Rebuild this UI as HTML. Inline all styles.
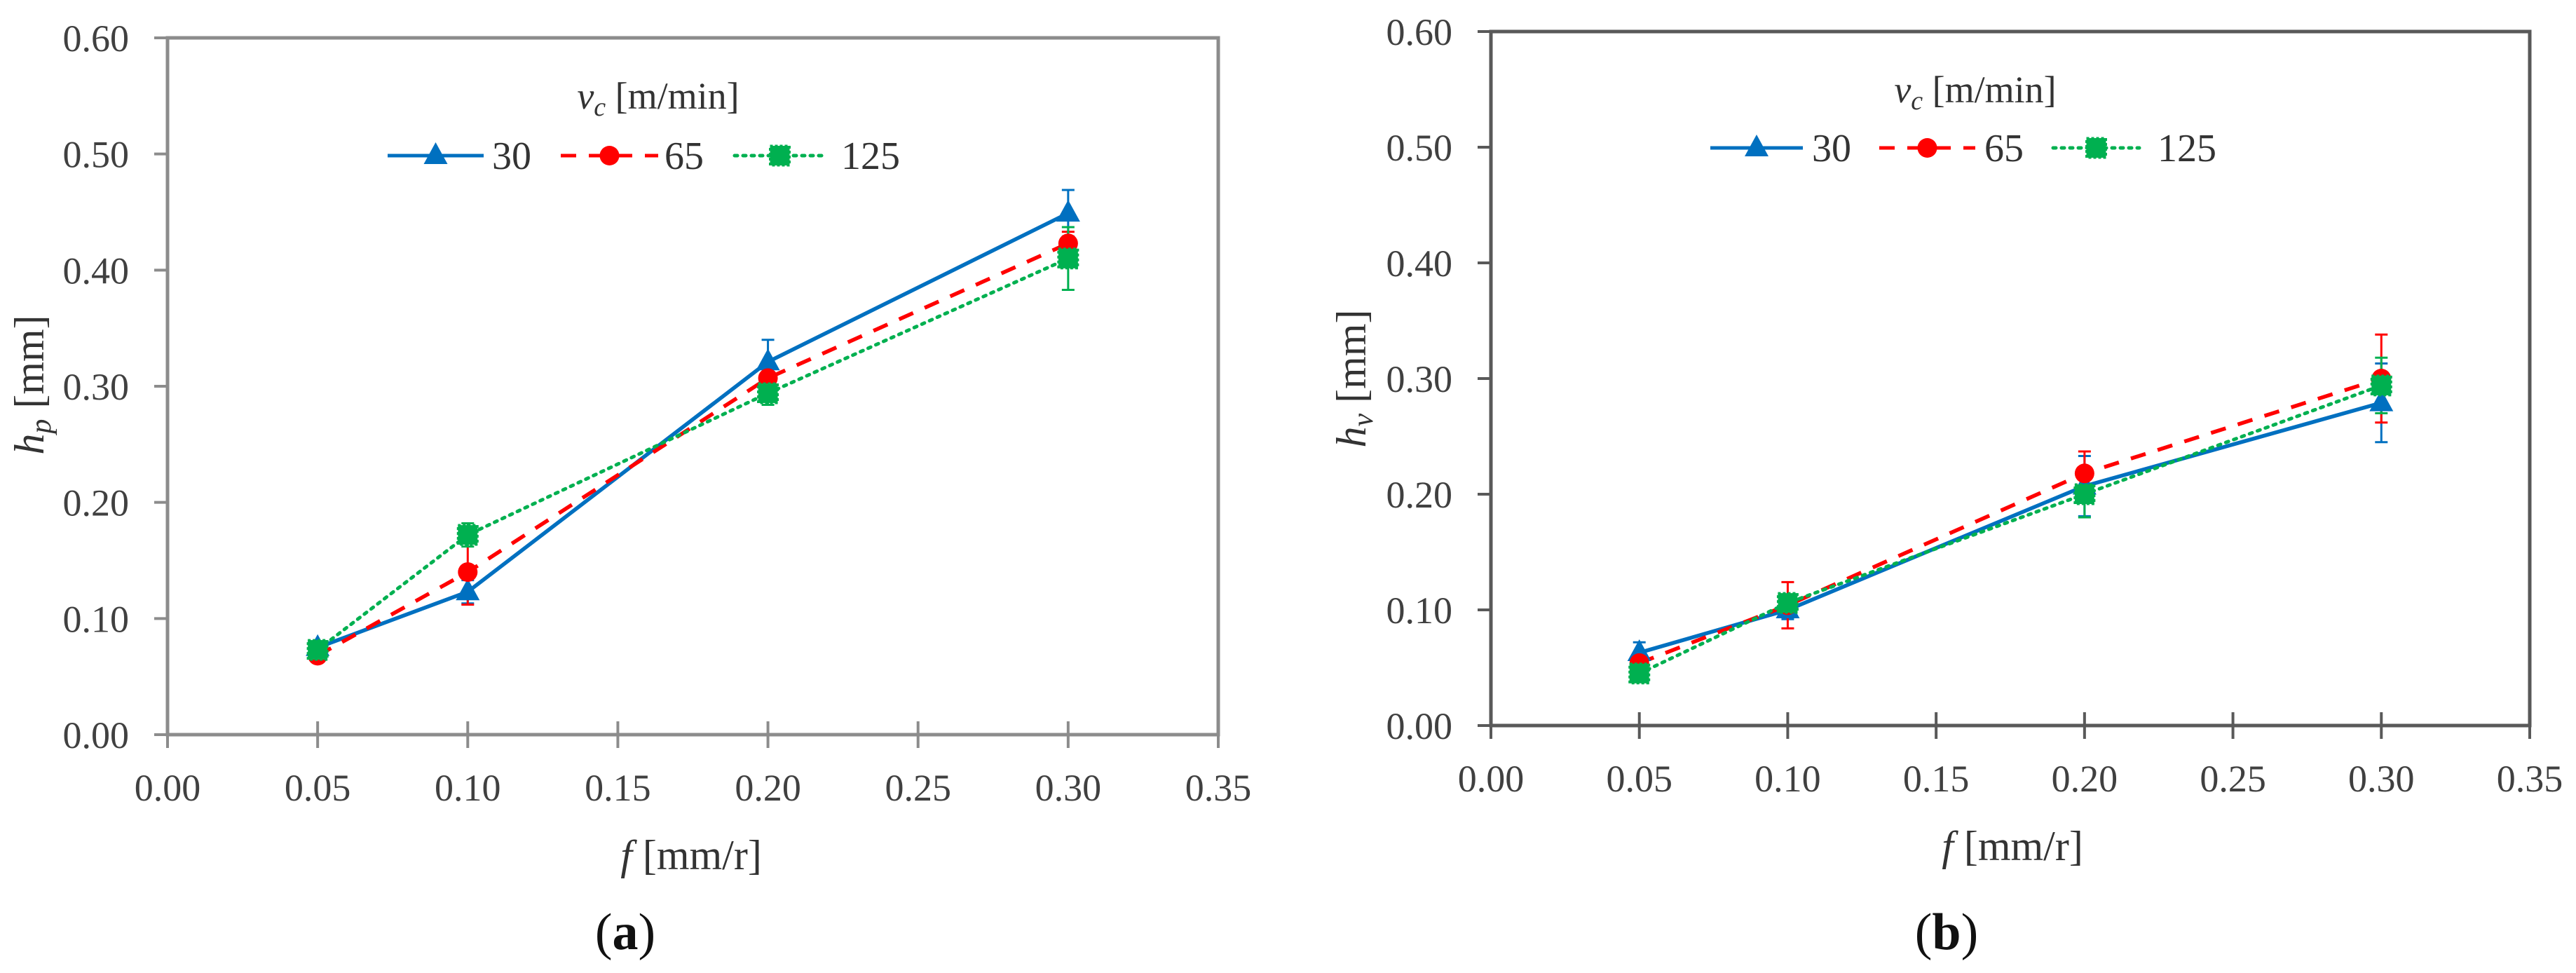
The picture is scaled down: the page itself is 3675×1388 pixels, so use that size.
<!DOCTYPE html>
<html><head><meta charset="utf-8"><style>
html,body{margin:0;padding:0;background:#fff;}
svg{display:block;}
text{font-family:"Liberation Serif",serif;}
</style></head><body>
<svg id="fig" width="3675" height="1388" viewBox="0 0 3675 1388" xmlns="http://www.w3.org/2000/svg" font-family="Liberation Serif, serif"></svg>
<script>
// shared data
const fValues = [0.05, 0.10, 0.20, 0.30];
const seriesNames = ["30", "65", "125"];
const xTicks = [0, 0.05, 0.10, 0.15, 0.20, 0.25, 0.30, 0.35];
const xTickLabels = ["0.00","0.05","0.10","0.15","0.20","0.25","0.30","0.35"];
const yTicks = [0, 0.1, 0.2, 0.3, 0.4, 0.5, 0.6];
const yTickLabels = ["0.00","0.10","0.20","0.30","0.40","0.50","0.60"];
// chart (a) hp
const hp30 = [0.075, 0.123, 0.321, 0.449];
const hp65 = [0.068, 0.140, 0.307, 0.423];
const hp125 = [0.073, 0.172, 0.294, 0.410];
const hpErr30 = [0.005, 0.010, 0.019, 0.020];
const hpErr65 = [0.004, 0.028, 0.012, 0.010];
const hpErr125 = [0.006, 0.010, 0.010, 0.027];
// chart (b) hv
const hv30 = [0.063, 0.100, 0.207, 0.279];
const hv65 = [0.054, 0.104, 0.218, 0.300];
const hv125 = [0.045, 0.106, 0.200, 0.294];
const hvErr30 = [0.009, 0.008, 0.026, 0.034];
const hvErr65 = [0.006, 0.020, 0.019, 0.038];
const hvErr125 = [0.006, 0.006, 0.020, 0.024];

const NS = "http://www.w3.org/2000/svg";
const svg = document.getElementById("fig");
function el(tag, attrs, parent) {
  const e = document.createElementNS(NS, tag);
  for (const k in attrs) e.setAttribute(k, attrs[k]);
  (parent || svg).appendChild(e);
  return e;
}
const colors = ["#0070C0", "#FF0000", "#00B050"];
const dashes = ["none", "22 18", "4 8"];

function marker(g, kind, cx, cy) {
  let m;
  if (kind === 0) {
    m = el("polygon", {points: `${cx},${cy-19} ${cx+17},${cy+12} ${cx-17},${cy+12}`, fill: colors[0]}, g);
  } else if (kind === 1) {
    m = el("circle", {cx: cx, cy: cy, r: 14, fill: colors[1]}, g);
  } else {
    m = el("rect", {x: cx-14, y: cy-14, width: 28, height: 28, fill: colors[2], stroke: "#00B050", "stroke-width": 3, "stroke-dasharray": "4 3"}, g);
  }
  return m;
}

function chart(cfg) {
  const {x0, x1, y0, y1, axisColor, series, errs, letter, ySub, leg, id} = cfg;
  const g = el("g", {});
  
  
  const X = v => x0 + (v - 0) / 0.35 * (x1 - x0);
  const Y = v => y0 - v / 0.6 * (y0 - y1);
  const frame = el("rect", {x: x0, y: y1, width: x1 - x0, height: y0 - y1, fill: "none", stroke: axisColor, "stroke-width": 5}, g);
  
  
  yTicks.forEach((t, i) => {
    const yy = Y(t);
    const tk = el("line", {x1: x0 - 19, x2: x0, y1: yy, y2: yy, stroke: axisColor, "stroke-width": 4}, g);
    
    
    const lb = el("text", {x: x0 - 55, y: yy + 19, "text-anchor": "end", "font-size": 54, fill: "#404040", "font-family": "Liberation Serif, serif"}, g);
    lb.textContent = yTickLabels[i];
    
    
  });
  xTicks.forEach((t, i) => {
    const xx = X(t);
    const tk = el("line", {x1: xx, x2: xx, y1: y0 - 19, y2: y0 + 19, stroke: axisColor, "stroke-width": 4}, g);
    
    
    const lb = el("text", {x: xx, y: y0 + 94, "text-anchor": "middle", "font-size": 54, fill: "#404040", "font-family": "Liberation Serif, serif"}, g);
    lb.textContent = xTickLabels[i];
    
    
  });
  series.forEach((s, si) => {
    s.forEach((v, i) => {
      const xx = X(fValues[i]), e = errs[si][i];
      const eb = el("path", {d: `M${xx},${Y(v-e)}V${Y(v+e)}M${xx-9},${Y(v-e)}H${xx+9}M${xx-9},${Y(v+e)}H${xx+9}`, stroke: colors[si], "stroke-width": 3, fill: "none"}, g);
      
      
    });
  });
  series.forEach((s, si) => {
    const pts = s.map((v, i) => `${X(fValues[i])},${Y(v)}`).join(" ");
    const attrs = {points: pts, fill: "none", stroke: colors[si], "stroke-width": si === 2 ? 5 : 5.5};
    if (dashes[si] !== "none") attrs["stroke-dasharray"] = dashes[si];
    if (si === 2) attrs["stroke-linecap"] = "round";
    const ln = el("polyline", attrs, g);
    
    
  });
  series.forEach((s, si) => {
    s.forEach((v, i) => {
      const m = marker(g, si, X(fValues[i]), Y(v));
      
      
    });
  });
  const lt = el("text", {x: leg.tx, y: leg.ty, "text-anchor": "middle", "font-size": 54, fill: "#333", "font-family": "Liberation Serif, serif"}, g);
  lt.innerHTML = '<tspan font-style="italic">v</tspan><tspan font-style="italic" font-size="38" dy="10">c</tspan><tspan dy="-10"> [m/min]</tspan>';
  
  
  leg.items.forEach((it, si) => {
    const lg = el("g", {}, g);
    
    
    const attrs = {x1: it[0], x2: it[1], y1: leg.ry, y2: leg.ry, stroke: colors[si], "stroke-width": 5};
    if (dashes[si] !== "none") attrs["stroke-dasharray"] = dashes[si];
    if (si === 2) attrs["stroke-linecap"] = "round";
    el("line", attrs, lg);
    marker(lg, si, (it[0] + it[1]) / 2, leg.ry);
    const tx = el("text", {x: it[2], y: leg.ry + 19, "font-size": 56, fill: "#333", "font-family": "Liberation Serif, serif"}, lg);
    tx.textContent = seriesNames[si];
  });
  const xt = el("text", {x: cfg.xtx, y: cfg.xty, "text-anchor": "middle", "font-size": 60, fill: "#333", "font-family": "Liberation Serif, serif"}, g);
  xt.innerHTML = '<tspan font-style="italic">f</tspan> [mm/r]';
  
  
  const yt = el("text", {x: 0, y: 0, "text-anchor": "middle", "font-size": 60, fill: "#333", "font-family": "Liberation Serif, serif", transform: `translate(${cfg.ytx},${cfg.yty}) rotate(-90)`}, g);
  yt.innerHTML = `<tspan font-style="italic">h</tspan><tspan font-style="italic" font-size="42" dy="10">${ySub}</tspan><tspan dy="-10"> [mm]</tspan>`;
  
  
  const pl = el("text", {x: cfg.ltx, y: 1354, "text-anchor": "middle", "font-size": 74, fill: "#111", "font-family": "Liberation Serif, serif"}, g);
  pl.innerHTML = `(<tspan font-weight="bold">${letter}</tspan>)`;
  
  
}

chart({id: "chart-a", x0: 239, x1: 1738, y0: 1048, y1: 54, axisColor: "#8c8c8c",
  series: [hp30, hp65, hp125], errs: [hpErr30, hpErr65, hpErr125], letter: "a", ySub: "p",
  leg: {tx: 939, ty: 155, ry: 222, items: [[553, 690, 702], [800, 939, 948], [1048, 1177, 1200]]},
  xtx: 986, xty: 1240, ytx: 62, yty: 549, ltx: 892});
chart({id: "chart-b", x0: 2127, x1: 3609, y0: 1035, y1: 45, axisColor: "#595959",
  series: [hv30, hv65, hv125], errs: [hvErr30, hvErr65, hvErr125], letter: "b", ySub: "v",
  leg: {tx: 2818, ty: 146, ry: 211, items: [[2440, 2572, 2585], [2681, 2818, 2831], [2929, 3052, 3078]]},
  xtx: 2871, xty: 1227, ytx: 1948, yty: 540, ltx: 2777});
</script>
</body></html>
